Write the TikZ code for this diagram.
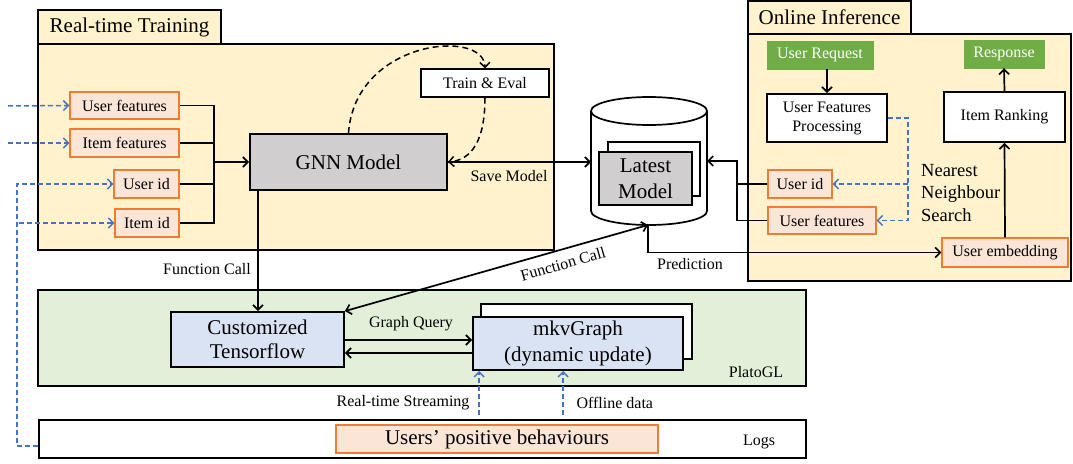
\documentclass[tikz,border=0pt]{standalone}
\usepackage{fontspec}
\setmainfont{Liberation Serif}
\usetikzlibrary{arrows.meta,calc}
\definecolor{cream}{HTML}{FFF2CC}
\definecolor{orfill}{HTML}{FBE5D6}
\definecolor{ordraw}{HTML}{ED7D31}
\definecolor{greyfill}{HTML}{D0CECE}
\definecolor{bluefill}{HTML}{DAE3F3}
\definecolor{lgreen}{HTML}{E2F0D9}
\definecolor{btngreen}{HTML}{70AD47}
\definecolor{dblue}{HTML}{4472C4}
\tikzset{
  f16/.style={font=\fontsize{16}{19}\selectfont},
  f18/.style={font=\fontsize{18.5}{22.5}\selectfont},
  f21/.style={font=\fontsize{21}{25}\selectfont},
  bx/.style={draw=black, line width=1.8pt, inner sep=0pt, align=center},
  obox/.style={draw=ordraw, fill=orfill, line width=1.2pt, inner sep=0pt, f16},
  gbtn/.style={draw=btngreen, fill=btngreen, text=white, inner sep=0pt, f16},
  tip/.tip={Straight Barb[length=5pt,width=10pt]},
  arr/.style={line width=1.7pt, -tip},
  ln/.style={line width=1.7pt},
  bluedash/.style={draw=dblue, line width=1.5pt, dash pattern=on 5pt off 3pt},
  barr/.style={bluedash, -tip},
  bkdash/.style={line width=1.5pt, dash pattern=on 6pt off 4pt, -tip},
}
\begin{document}
\begin{tikzpicture}[x=1pt,y=-1pt]
\useasboundingbox (0,0) rectangle (1073,463);
% ---------- Real-time Training ----------
\node[bx, fill=cream, minimum width=516, minimum height=206] (train) at (296,147) {};
\node[bx, fill=cream, minimum width=183, minimum height=34, f21] (traintab) at (129.5,27) {Real-time Training};
\node[obox, minimum width=109, minimum height=27] (uf) at (124.5,105.5) {User features};
\node[obox, minimum width=109, minimum height=28] (itf) at (124.5,143) {Item features};
\node[obox, minimum width=65, minimum height=28] (uid) at (146.5,184) {User id};
\node[obox, minimum width=64, minimum height=28] (iid) at (147,223) {Item id};
\node[bx, fill=greyfill, minimum width=197, minimum height=56, f21] (gnn) at (348.5,162) {GNN Model};
\node[bx, fill=white, line width=1.2pt, minimum width=128, minimum height=28, f16] (te) at (485,83) {Train \& Eval};
% ---------- Online Inference ----------
\node[bx, fill=cream, minimum width=323, minimum height=247] (online) at (909.5,157.5) {};
\node[bx, fill=cream, minimum width=163, minimum height=33, f21] (onlinetab) at (829.5,17.5) {Online Inference};
\node[gbtn, minimum width=106, minimum height=28] (ureq) at (820,55) {User Request};
\node[bx, fill=white, minimum width=120, minimum height=48, f16, align=center] (ufp) at (827,118) {User Features\\Processing};
\node[gbtn, minimum width=80, minimum height=28] (resp) at (1004,54) {Response};
\node[bx, fill=white, minimum width=121, minimum height=50, f16] (irank) at (1004.5,117) {Item Ranking};
\node[obox, minimum width=126, minimum height=29] (uemb) at (1005,252.5) {User embedding};
\node[obox, minimum width=64, minimum height=28] (uid2) at (800,184) {User id};
\node[obox, minimum width=108, minimum height=27] (uf2) at (822,220.5) {User features};
\node[f18, anchor=west, align=left, inner sep=0pt] (nns) at (921,193) {Nearest\\Neighbour\\Search};
% ---------- Cylinder ----------
\draw[ln, fill=white] (591,111) -- (591,211) arc[start angle=180, end angle=360, x radius=58pt, y radius=14pt] -- (707,111);
\draw[ln, fill=white] (649,111) ellipse [x radius=58pt, y radius=14pt];
\coordinate (cylL) at (591,162);
\coordinate (cylR) at (707,161);
\coordinate (cylB) at (648,225);
\node[bx, fill=white, minimum width=92, minimum height=54] (lmback) at (654,169) {};
\node[bx, fill=greyfill, minimum width=93, minimum height=53, f21, font=\fontsize{21}{26}\selectfont] (lm) at (645.5,178.5) {Latest\\Model};
% ---------- PlatoGL ----------
\node[bx, fill=lgreen, minimum width=768, minimum height=96] (plato) at (422,338) {};
\node[f16] (platolbl) at (756,372) {PlatoGL};
\node[bx, fill=bluefill, minimum width=173, minimum height=55, font=\fontsize{21}{24}\selectfont] (ctf) at (257.5,339.5) {Customized\\Tensorflow};
\node[bx, fill=white, minimum width=211, minimum height=55] (mkvback) at (586.5,331.5) {};
\node[bx, fill=bluefill, minimum width=210, minimum height=53, font=\fontsize{21}{26}\selectfont] (mkv) at (578,343.5) {mkvGraph\\(dynamic update)};
% ---------- Logs ----------
\node[bx, fill=white, minimum width=767, minimum height=38] (logs) at (422.5,439) {};
\node[draw=ordraw, fill=orfill, line width=1.4pt, inner sep=0pt, minimum width=322, minimum height=28, f21] (upb) at (497,439) {Users’ positive behaviours};
\node[f16] (logslbl) at (759,442) {Logs};
% ---------- Connectors: training ----------
\coordinate (s1) at (8,106);
\coordinate (s2) at (8,143);
\draw[barr] (s1) -- (uf.west);
\draw[barr] (s2) -- (itf.west);
\coordinate (lv) at (17,0);
\draw[barr] ($(logs.west)+(0,7)$) -| (lv |- uid.west) -- (uid.west);
\draw[barr] ($(lv |- iid.west)+(2,0)$) -- (iid.west);
\coordinate (bus) at (214,162);
\draw[ln] (uf.east) -| (bus |- iid.east) -- (iid.east);
\draw[ln] (itf.east) -- (itf.east -| bus);
\draw[ln] (uid.east) -- (uid.east -| bus);
\draw[arr] (bus) -- (gnn.west);
\draw[bkdash] (gnn.north) .. controls (355,40) and (484,28) .. (te.north);
\draw[bkdash] (te.south) .. controls (485,140) and (472,160) .. (gnn.east);
\draw[arr] (gnn.east) -- (cylL);
\node[f16] (savelbl) at (509,176) {Save Model};
\coordinate (fcx) at (258,0);
\draw[arr] (fcx |- gnn.south) -- (fcx |- ctf.north);
\node[f16] (fc1) at (207,269) {Function Call};
\draw[ln, tip-tip] (ctf.north east) -- (cylB);
\node[f16, rotate=16] (fc2) at (563,264) {Function Call};
% ---------- Connectors: inference ----------
\draw[arr] (cylB) |- (uemb.west);
\node[f16] (predlbl) at (690,264) {Prediction};
\coordinate (rbus) at (737,161);
\draw[arr] (uf2.west) -| (rbus) -- (cylR);
\draw[ln] (uid2.west) -- (uid2.west -| rbus);
\draw[arr] (ureq.south -| ufp.north) -- (ufp.north);
\coordinate (nn) at (908,0);
\draw[barr] (ufp.east) -| (nn |- uf2.east) -- (uf2.east);
\draw[barr] (nn |- uid2.east) -- (uid2.east);
\draw[arr] (irank.north) -- (resp.south);
\draw[arr] (uemb.north) -- (irank.south);
% ---------- Connectors: PlatoGL ----------
\coordinate (gq1) at (0,340);
\coordinate (gq2) at (0,353);
\draw[arr] (ctf.east |- gq1) -- (mkv.west |- gq1);
\draw[arr] (mkv.west |- gq2) -- (ctf.east |- gq2);
\node[f16] (gqlbl) at (411,324) {Graph Query};
\draw[barr] ($(mkv.south west)+(7,44)$) -- ($(mkv.south west)+(7,0)$);
\draw[barr] ($(mkv.south west)+(91,44)$) -- ($(mkv.south west)+(91,0)$);
\node[f16, anchor=east] (rtslbl) at (473,403) {Real-time Streaming};
\node[f16, anchor=west] (offlbl) at (573,403) {Offline data};
\end{tikzpicture}
\end{document}
